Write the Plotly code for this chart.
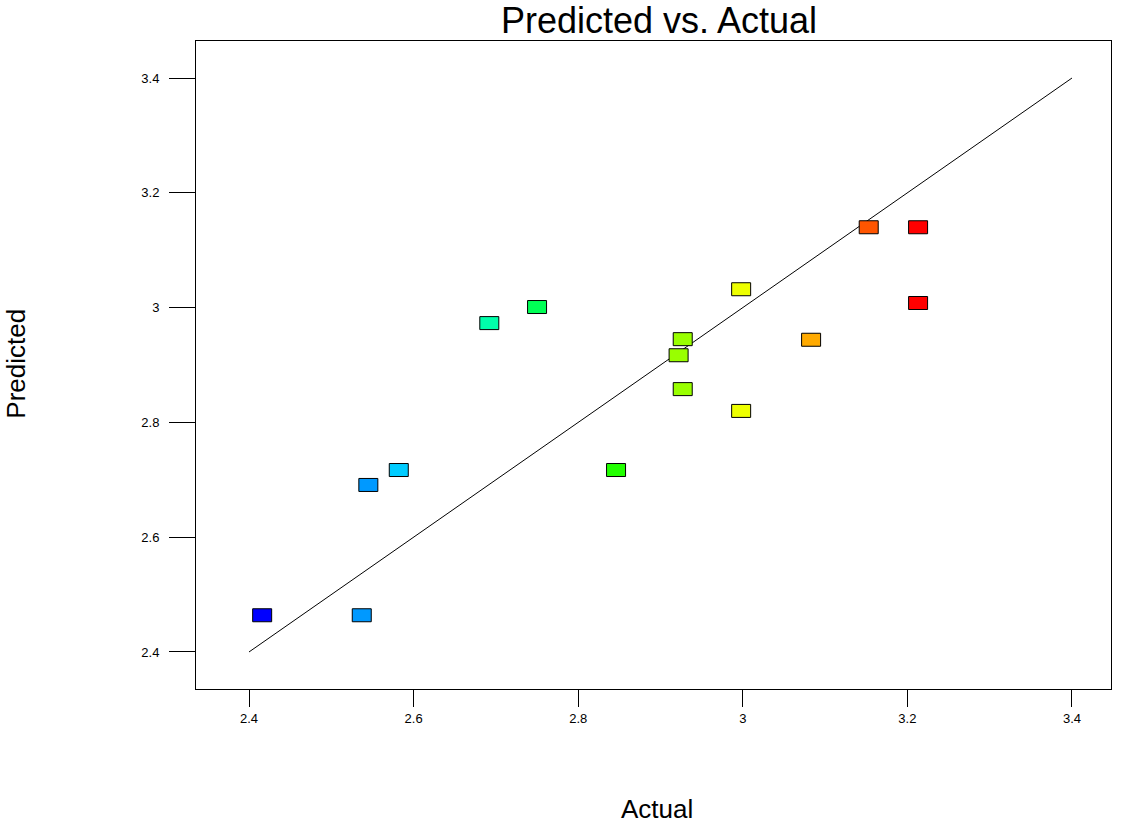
import plotly.graph_objects as go

actual = [2.416, 2.537, 2.545, 2.582, 2.692, 2.750, 2.846, 2.922, 2.927, 2.927, 2.998, 2.998, 3.083, 3.153, 3.213, 3.213]
predicted = [2.464, 2.464, 2.691, 2.717, 2.973, 3.001, 2.717, 2.917, 2.945, 2.858, 3.032, 2.820, 2.944, 3.140, 3.140, 3.008]
colors = ["#0000FF", "#0099FF", "#0099FF", "#00CCFF", "#00FFAA", "#00FF55", "#22FF00", "#99FF00",
          "#99FF00", "#99FF00", "#EEFF00", "#EEFF00", "#FFAA00", "#FF5500", "#FF0000", "#FF0000"]
ref_line = [2.4, 3.4]
tick_vals = [2.4, 2.6, 2.8, 3.0, 3.2, 3.4]
tick_text = ["2.4", "2.6", "2.8", "3", "3.2", "3.4"]

fig = go.Figure()
fig.add_trace(go.Scatter(x=ref_line, y=ref_line, mode="lines",
                         line=dict(color="black", width=1), hoverinfo="skip", showlegend=False))
fig.add_trace(go.Scatter(x=actual, y=predicted, mode="markers",
                         marker=dict(size=1, color="rgba(0,0,0,0)"), showlegend=False))

shapes = []
for xa, yp, c in zip(actual, predicted, colors):
    shapes.append(dict(type="rect", xref="x", yref="y",
                       xsizemode="pixel", ysizemode="pixel",
                       xanchor=xa, yanchor=yp,
                       x0=-9.5, x1=9.5, y0=-6.5, y1=6.5,
                       fillcolor=c, line=dict(color="black", width=1), layer="above"))

W, H = 1127, 825
font_family = "Liberation Sans, Arial, sans-serif"
fig.update_layout(
    width=W, height=H,
    margin=dict(l=196, r=16, t=41, b=136),
    paper_bgcolor="white", plot_bgcolor="white",
    shapes=shapes,
    font=dict(family=font_family, color="black"),
    title=dict(text="Predicted vs. Actual", x=659 / W, xanchor="center",
               y=1 - 20 / H, yanchor="middle",
               font=dict(size=36, family=font_family, color="black")),
    xaxis=dict(range=[2.3356, 3.4474], tickvals=tick_vals, ticktext=tick_text,
               showgrid=False, zeroline=False, showline=True, linecolor="black", linewidth=1,
               mirror=True, ticks="outside", ticklen=17, tickcolor="black", tickwidth=1,
               tickfont=dict(size=13, family=font_family, color="black")),
    yaxis=dict(range=[2.3355, 3.4645], tickvals=tick_vals, ticktext=tick_text,
               showgrid=False, zeroline=False, showline=True, linecolor="black", linewidth=1,
               mirror=True, ticks="outside", ticklen=26, tickcolor="black", tickwidth=1,
               ticklabelstandoff=7,
               tickfont=dict(size=13, family=font_family, color="black")),
    annotations=[
        dict(text="Actual", xref="paper", yref="paper", x=0.504, y=0, yshift=-120,
             xanchor="center", yanchor="middle", showarrow=False,
             font=dict(size=26, family=font_family, color="black")),
        dict(text="Predicted", xref="paper", yref="paper", x=0, y=0.502, xshift=-180,
             xanchor="center", yanchor="middle", textangle=-90, showarrow=False,
             font=dict(size=26, family=font_family, color="black")),
    ],
)

fig.write_html("out.html", config={"displayModeBar": False},
               post_script="document.body.style.margin='0';")
